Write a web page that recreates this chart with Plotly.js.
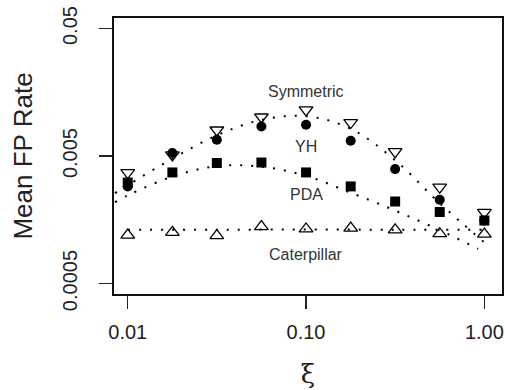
<!DOCTYPE html>
<html><head><meta charset="utf-8">
<script src="https://cdn.plot.ly/plotly-3.0.1.min.js"></script>
<style>html,body{margin:0;padding:0;background:#fff}#chart{width:505px;height:390px}</style>
</head><body><div id="chart"></div>
<script>
// xi values (log-spaced, 0.25 decade)
const xi = [0.01, 0.0178, 0.0316, 0.0562, 0.1, 0.178, 0.316, 0.562, 1.0];
const symmetric = [0.00371, 0.00510, 0.00801, 0.01013, 0.01150, 0.00916, 0.00542, 0.00285, 0.00181];
const yh = [0.00289, 0.00528, 0.00671, 0.00854, 0.00880, 0.00659, 0.00395, 0.00227, 0.00156];
const pda = [0.00310, 0.00372, 0.00441, 0.00445, 0.00372, 0.00289, 0.00220, 0.00182, 0.00156];
const caterpillar = [0.00120, 0.00126, 0.00119, 0.00140, 0.00134, 0.00136, 0.00132, 0.00123, 0.00122];

// smoothed (fitted) curves
const fitUpperX = [0.00849, 0.01, 0.0178, 0.0316, 0.0562, 0.1, 0.178, 0.316, 0.562, 1.0];
const fitUpperY = [0.00256, 0.00295, 0.00477, 0.00727, 0.00961, 0.01028, 0.00819, 0.00464, 0.00213, 0.00105];
const fitPdaX = [0.00849, 0.01, 0.0178, 0.0316, 0.0562, 0.1, 0.178, 0.316, 0.562, 0.922];
const fitPdaY = [0.00217, 0.00246, 0.00345, 0.00416, 0.00413, 0.00350, 0.00258, 0.00187, 0.00131, 0.000937];
const fitCatX = [0.01, 0.0316, 0.1, 0.316, 1.0];
const fitCatY = [0.00132, 0.00132, 0.00133, 0.00132, 0.00132];

const labelNames = ["Symmetric", "YH", "PDA", "Caterpillar"];
const labelY = [-1.794, -2.224, -2.600, -3.075]; // log10 positions

const xTicks = [0.01, 0.1, 1.0];
const xTickText = ["0.01", "0.10", "1.00"];
const yTicks = [0.0005, 0.005, 0.05];
const yTickText = ["0.0005", "0.005", "0.05"];

const dotLine = {color: '#000', width: 2, dash: '2px,9px', shape: 'spline', smoothing: 1};

const traces = [
  {x: fitUpperX, y: fitUpperY, mode: 'lines', line: dotLine, hoverinfo: 'skip'},
  {x: fitPdaX, y: fitPdaY, mode: 'lines', line: dotLine, hoverinfo: 'skip'},
  {x: fitCatX, y: fitCatY, mode: 'lines', line: dotLine, hoverinfo: 'skip'},
  {x: xi, y: symmetric, mode: 'markers', name: 'Symmetric',
   marker: {symbol: 'triangle-down-open', size: 12, color: '#000', line: {color: '#000', width: 1.3}}},
  {x: xi, y: yh, mode: 'markers', name: 'YH',
   marker: {symbol: 'circle', size: 10, color: '#000'}},
  {x: xi, y: pda, mode: 'markers', name: 'PDA',
   marker: {symbol: 'square', size: 10, color: '#000'}},
  {x: xi, y: caterpillar, mode: 'markers', name: 'Caterpillar',
   marker: {symbol: 'triangle-up-open', size: 12, color: '#000', line: {color: '#000', width: 1.3}}}
];

const annotations = labelNames.map((t, i) => ({
  x: -1, y: labelY[i], xref: 'x', yref: 'y', text: t, showarrow: false,
  font: {family: 'Liberation Sans, Arial, sans-serif', size: 16, color: '#333'},
  xanchor: 'center', yanchor: 'middle'
}));

const layout = {
  width: 505, height: 390,
  margin: {l: 114, r: 3, t: 18, b: 96},
  paper_bgcolor: '#fff', plot_bgcolor: '#fff',
  showlegend: false,
  font: {family: 'Liberation Sans, Arial, sans-serif', color: '#222'},
  xaxis: {
    type: 'log', range: [-2.077, 0.099],
    tickvals: xTicks, ticktext: xTickText,
    ticks: 'outside', ticklen: 13, tickwidth: 1.3, tickcolor: '#222',
    ticklabelstandoff: 6,
    showgrid: false, zeroline: false,
    showline: true, mirror: true, linecolor: '#111', linewidth: 2,
    tickfont: {size: 20, color: '#222'},
    title: {text: 'ξ', font: {size: 26, color: '#222', family: 'DejaVu Serif, serif'}, standoff: 23}
  },
  yaxis: {
    type: 'log', range: [-3.383, -1.218],
    tickvals: yTicks, ticktext: yTickText, tickangle: -90,
    ticks: 'outside', ticklen: 13, tickwidth: 1.3, tickcolor: '#222',
    ticklabelstandoff: 14,
    showgrid: false, zeroline: false,
    showline: true, mirror: true, linecolor: '#111', linewidth: 2,
    tickfont: {size: 20, color: '#222'},
    title: {text: 'Mean FP Rate', font: {size: 26, color: '#222'}, standoff: 19}
  },
  annotations: annotations
};

Plotly.newPlot('chart', traces, layout, {displayModeBar: false, staticPlot: true});
</script>
</body></html>
